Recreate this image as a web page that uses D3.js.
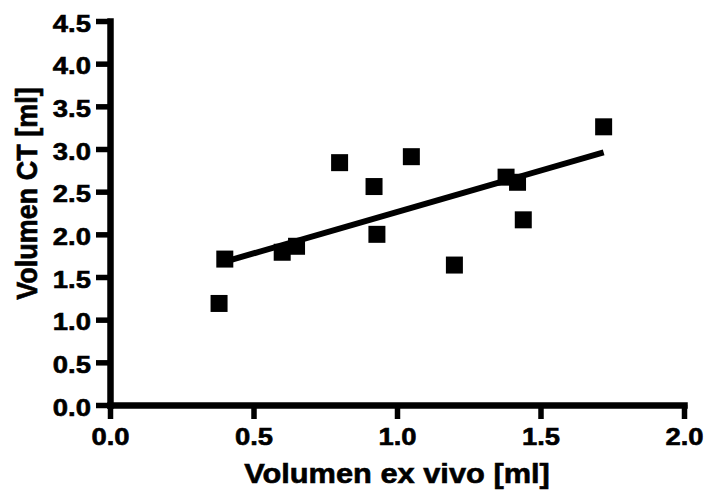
<!DOCTYPE html>
<html>
<head>
<meta charset="utf-8">
<script src="https://cdn.jsdelivr.net/npm/d3@7/dist/d3.min.js"></script>
<style>
  html, body { margin: 0; padding: 0; background: #fff; }
  svg { display: block; }
  text { font-family: "Liberation Sans", Arial, Helvetica, sans-serif; font-weight: bold; fill: #000; stroke: #000; stroke-width: 0.6px; }
</style>
</head>
<body>
<svg id="chart" width="708" height="501"></svg>
<script>
// Measured volumes: ex vivo (x) vs CT (y), in ml
const exVivo = [0.38, 0.40, 0.60, 0.65, 0.80, 0.92, 0.93, 1.05, 1.20, 1.38, 1.42, 1.44, 1.72];
const ctVolume = [1.19, 1.71, 1.79, 1.86, 2.84, 2.56, 2.00, 2.91, 1.64, 2.67, 2.61, 2.17, 3.26];

// Linear regression line endpoints
const fitX = [0.38, 1.72];
const fitY = [1.66, 2.96];

const xTicks = [0.0, 0.5, 1.0, 1.5, 2.0];
const yTicks = [0.0, 0.5, 1.0, 1.5, 2.0, 2.5, 3.0, 3.5, 4.0, 4.5];

const xTitle = "Volumen ex vivo [ml]";
const yTitle = "Volumen CT [ml]";

const svg = d3.select("#chart");

const x = d3.scaleLinear().domain([0, 2]).range([110, 684]);
const y = d3.scaleLinear().domain([0, 4.5]).range([405, 21]);

const fmt = d3.format(".1f");

// Y axis
const gy = svg.append("g")
  .attr("transform", `translate(${x(0)},0)`)
  .call(d3.axisLeft(y).tickValues(yTicks).tickFormat(fmt).tickSize(14).tickSizeOuter(0).tickPadding(0));

// X axis
const gx = svg.append("g")
  .attr("transform", `translate(0,${y(0)})`)
  .call(d3.axisBottom(x).tickValues(xTicks).tickFormat(fmt).tickSize(14).tickSizeOuter(0).tickPadding(0));

[gx, gy].forEach(g => {
  g.select(".domain")
    .style("stroke", "#000").style("stroke-width", "6.5px").style("stroke-linecap", "square");
  g.selectAll(".tick line")
    .style("stroke", "#000").style("stroke-width", "5.5px").style("stroke-linecap", "butt");
  g.selectAll(".tick text").attr("font-size", 24.5).attr("fill", "#000");
});

// Tick labels are drawn slightly widened
gy.selectAll(".tick text")
  .attr("x", null).attr("dy", null)
  .attr("text-anchor", "end")
  .attr("transform", "translate(-19,10) scale(1.12,1)");

gx.selectAll(".tick text")
  .attr("y", null).attr("dy", null)
  .attr("text-anchor", "middle")
  .attr("transform", "translate(0,40) scale(1.12,1)");

// Regression line
svg.append("path")
  .datum(fitX.map((v, i) => [v, fitY[i]]))
  .attr("fill", "none")
  .style("stroke", "#000")
  .style("stroke-width", "6px")
  .attr("d", d3.line().x(d => x(d[0])).y(d => y(d[1])));

// Data points as filled squares
const square = d3.symbol().type(d3.symbolSquare).size(17 * 17);
svg.append("g")
  .selectAll("path")
  .data(exVivo.map((v, i) => [v, ctVolume[i]]))
  .join("path")
  .attr("transform", d => `translate(${x(d[0])},${y(d[1])})`)
  .attr("d", square)
  .attr("fill", "#000");

// Axis titles
svg.append("text")
  .attr("text-anchor", "middle")
  .attr("font-size", 28)
  .attr("transform", `translate(${(x(0) + x(2)) / 2},483) scale(1.1,1)`)
  .text(xTitle);

svg.append("text")
  .attr("text-anchor", "middle")
  .attr("font-size", 27)
  .attr("transform", "translate(37,193.5) rotate(-90) scale(1,1.12)")
  .text(yTitle);
</script>
</body>
</html>
